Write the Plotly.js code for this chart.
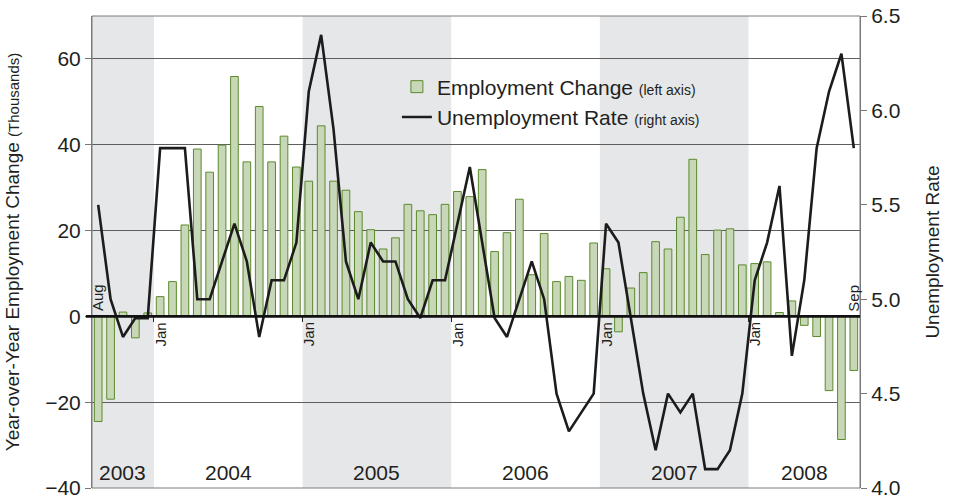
<!DOCTYPE html>
<html>
<head>
<meta charset="utf-8">
<script src="https://cdn.plot.ly/plotly-3.0.1.min.js"></script>
<style>
html,body{margin:0;padding:0;background:#fff;}
#chart{width:958px;height:500px;}
</style>
</head>
<body>
<div id="chart"></div>
<script>
// ---- Data ----
const startYear = 2003;
const startMonth = 8; // August
const monthAbbr = ['Jan','Feb','Mar','Apr','May','Jun','Jul','Aug','Sep','Oct','Nov','Dec'];

// Year-over-year employment change (thousands), Aug 2003 .. Sep 2008
const empChange = [
  -24.5, -19.3, 1.0, -5.0, 0.8,
  4.6, 8.1, 21.3, 39.0, 33.6, 39.9, 55.9, 36.0, 48.9, 36.0, 42.0, 34.8,
  31.5, 44.4, 31.5, 29.4, 24.4, 20.2, 15.7, 18.3, 26.1, 24.6, 23.7, 26.1,
  29.1, 27.9, 34.2, 15.1, 19.5, 27.3, 9.7, 19.3, 8.1, 9.3, 8.4, 17.1,
  11.1, -3.6, 6.6, 10.2, 17.4, 15.7, 23.1, 36.6, 14.4, 20.1, 20.4, 12.0,
  12.3, 12.7, 0.9, 3.6, -2.1, -4.7, -17.3, -28.7, -12.6
];

// Unemployment rate (%), Aug 2003 .. Sep 2008
const unempRate = [
  5.5, 5.0, 4.8, 4.9, 4.9,
  5.8, 5.8, 5.8, 5.0, 5.0, 5.2, 5.4, 5.2, 4.8, 5.1, 5.1, 5.3,
  6.1, 6.4, 5.9, 5.2, 5.0, 5.3, 5.2, 5.2, 5.0, 4.9, 5.1, 5.1,
  5.4, 5.7, 5.3, 4.9, 4.8, 5.0, 5.2, 5.0, 4.5, 4.3, 4.4, 4.5,
  5.4, 5.3, 4.9, 4.5, 4.2, 4.5, 4.4, 4.5, 4.1, 4.1, 4.2, 4.5,
  5.1, 5.3, 5.6, 4.7, 5.1, 5.8, 6.1, 6.3, 5.8
];

const leftRange = [-40, 70];
const rightRange = [4.0, 6.5];
const leftTicks = [-40, -20, 0, 20, 40, 60];
const rightTicks = [4.0, 4.5, 5.0, 5.5, 6.0, 6.5];

// ---- Derived month categories ----
const idx = [], years = [], months = [];
for (let i = 0; i < empChange.length; i++) {
  const m0 = (startMonth - 1 + i);
  idx.push(i);
  years.push(startYear + Math.floor(m0 / 12));
  months.push(monthAbbr[m0 % 12]);
}
const uniqueYears = [...new Set(years)];

// ---- Colours / styles ----
const FONT = '"Liberation Sans", Arial, sans-serif';
const TXT = '#231f20';
const BAND = '#e6e7e9';
const GRID = '#5e5e5e';

// Shaded year bands (alternate years, starting with the first)
const shapes = [];
uniqueYears.forEach((y, k) => {
  const first = years.indexOf(y), last = years.lastIndexOf(y);
  if (k % 2 === 0) {
    shapes.push({type:'rect', layer:'below', xref:'x', yref:'paper',
      x0: first - 0.5, x1: last + 0.5, y0: 0, y1: 1,
      fillcolor: BAND, line:{width:0}});
  }
});
// frame
shapes.push({type:'rect', layer:'above', xref:'paper', yref:'paper', x0:0, x1:1, y0:0, y1:1,
  line:{color:'#7a7a7a', width:1}, fillcolor:'rgba(0,0,0,0)'});
// heavy zero line drawn above the bars
shapes.push({type:'line', layer:'above', xref:'paper', yref:'y', x0:-0.008, x1:1, y0:0, y1:0,
  line:{color:'#111', width:2.8}});

// Annotations: year labels + month markers
const annotations = [];
uniqueYears.forEach(y => {
  const first = years.indexOf(y), last = years.lastIndexOf(y);
  annotations.push({x:(first + last) / 2, xref:'x', y:0, yref:'paper', yanchor:'bottom',
    yshift:2, text:String(y), showarrow:false, font:{family:FONT, size:21, color:TXT}});
});
idx.forEach(i => {
  if (i === 0 || i === idx.length - 1) {
    annotations.push({x:i, xref:'x', y:0, yref:'y', yanchor:'bottom', xanchor:'center', yshift:3,
      textangle:-90, text:months[i], showarrow:false, font:{family:FONT, size:15, color:TXT}});
  } else if (months[i] === 'Jan') {
    annotations.push({x:i, xref:'x', y:0, yref:'y', yanchor:'top', xanchor:'center', yshift:-4,
      textangle:-90, text:months[i], showarrow:false, font:{family:FONT, size:15, color:TXT}});
  }
});

const janBoundaries = idx.filter(i => months[i] === 'Jan').map(i => i - 0.5);

const traces = [
  {type:'bar', x:idx, y:empChange, name:'Employment Change <span style="font-size:14px">(left axis)</span>',
    width:0.62, marker:{color:'#c8d7b7', line:{color:'#5b8b2c', width:1}}, yaxis:'y', hoverinfo:'y'},
  {type:'scatter', mode:'lines', x:idx, y:unempRate, name:'Unemployment Rate <span style="font-size:14px">(right axis)</span>',
    line:{color:'#1c1c1c', width:2.6}, yaxis:'y2', hoverinfo:'y'}
];

const layout = {
  width:958, height:500,
  margin:{l:92, r:98, t:16, b:12},
  paper_bgcolor:'#fff', plot_bgcolor:'#fff',
  font:{family:FONT, color:TXT},
  showlegend:true,
  legend:{x:0.397, y:0.893, xanchor:'left', yanchor:'top', bgcolor:'rgba(0,0,0,0)',
    font:{family:FONT, size:21, color:TXT}, tracegroupgap:0},
  bargap:0.38,
  xaxis:{range:[-0.5, idx.length - 0.5], anchor:'free',
    position:(0 - leftRange[0]) / (leftRange[1] - leftRange[0]),
    showgrid:false, zeroline:false, showline:false, showticklabels:false,
    tickmode:'array', tickvals:janBoundaries, ticks:'outside', ticklen:5, tickcolor:'#222', tickwidth:1,
    fixedrange:true},
  yaxis:{range:leftRange, tickmode:'array', tickvals:leftTicks, ticks:'outside', ticklen:6,
    tickcolor:'#777', showgrid:true, gridcolor:GRID, gridwidth:1,
    zeroline:false,
    showline:true, linecolor:'#7a7a7a', linewidth:1,
    tickfont:{family:FONT, size:21, color:TXT}, automargin:false,
    title:{text:'Year-over-Year Employment Change <span style="font-size:15px">(Thousands)</span>',
      font:{family:FONT, size:19, color:TXT}, standoff:20}},
  yaxis2:{range:rightRange, overlaying:'y', side:'right', tickmode:'array', tickvals:rightTicks,
    tickformat:'.1f', ticks:'outside', ticklen:6, tickcolor:'#777', showgrid:false, zeroline:false,
    showline:true, linecolor:'#7a7a7a', linewidth:1,
    tickfont:{family:FONT, size:21, color:TXT}, automargin:false,
    title:{text:'Unemployment Rate', font:{family:FONT, size:19, color:TXT}, standoff:26}},
  shapes:shapes,
  annotations:annotations
};

Plotly.newPlot('chart', traces, layout, {displayModeBar:false, staticPlot:true});
</script>
</body>
</html>
